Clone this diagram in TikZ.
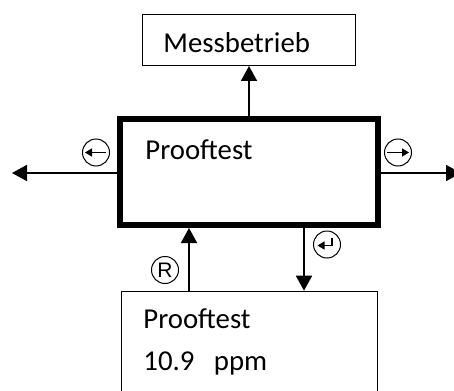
\documentclass[tikz,border=0pt]{standalone}
\usepackage{fontspec}
\setmainfont{Carlito}
\newfontfamily\pfsymfont{Liberation Sans}
\usetikzlibrary{arrows.meta}
\usetikzlibrary{calc}
\tikzset{
  pfbox/.style={draw, line width=0.7pt, inner sep=0pt},
  pfframe/.style={draw, line width=3pt, inner sep=0pt},
  pfarrow/.style={-{Triangle[length=7.5pt, width=8pt]}, line width=0.9pt},
  pftext/.style={anchor=base west, inner sep=0pt,
    font=\fontsize{14.4}{17}\selectfont},
  pfsym/.style={draw, circle, line width=0.5pt, minimum size=13.5pt,
    inner sep=0pt},
  pfinner/.style={-{Triangle[length=3.5pt, width=4pt]}, line width=0.8pt},
}

\begin{document}
\begin{tikzpicture}[x=0.5pt, y=-0.5pt]
\useasboundingbox (0,0) rectangle (454,390);

% Target state above.
\node[pfbox, minimum width=106.3pt, minimum height=25.3pt]
  (mess) at (249, 40) {};
\node[pftext] (messtext) at (163, 53) {Messbetrieb};

% Current state.
\node[pfframe, minimum width=129pt, minimum height=53pt]
  (main) at (249, 172) {};
\node[pftext] (maintext) at (145, 159) {Prooftest};

% Display below, cut by the page edge.
\node[pfbox, minimum width=127.8pt, minimum height=64.3pt]
  (disp) at (249.5, 355.7) {};
\node[pftext] (disptitle) at (143, 328) {Prooftest};
\node[pftext] (dispvalue) at (143, 370) {10.9\ \ \ ppm};

% Transitions.
\coordinate (lefttip) at (12, 173);
\coordinate (righttip) at (461, 173);
\coordinate (upx) at (189, 0);
\coordinate (downx) at (304, 0);
\draw[pfarrow] (main.north) -- (mess.south);
\draw[pfarrow] (lefttip -| main.west) -- (lefttip);
\draw[pfarrow] (righttip -| main.east) -- (righttip);
\draw[pfarrow] (upx |- disp.north) -- (upx |- main.south);
\draw[pfarrow] (downx |- main.south) -- (downx |- disp.north);

% Key symbols.
\node[pfsym] (keyleft) at (96, 152.5) {};
\draw[pfinner] ($(keyleft)+(10,0)$) -- ++(-21,0);
\node[pfsym] (keyright) at (398, 152.5) {};
\draw[pfinner] ($(keyright)+(-11,0)$) -- ++(22,0);
\node[pfsym] (keyenter) at (327, 244.5) {};
\draw[pfinner] ($(keyenter)+(5,-7)$) -- ++(0,8) -- ++(-14.5,0);
\node[pfsym, font=\pfsymfont\fontsize{10.5}{12}\selectfont]
  (keyreset) at (165, 270) {R};

\end{tikzpicture}
\end{document}
